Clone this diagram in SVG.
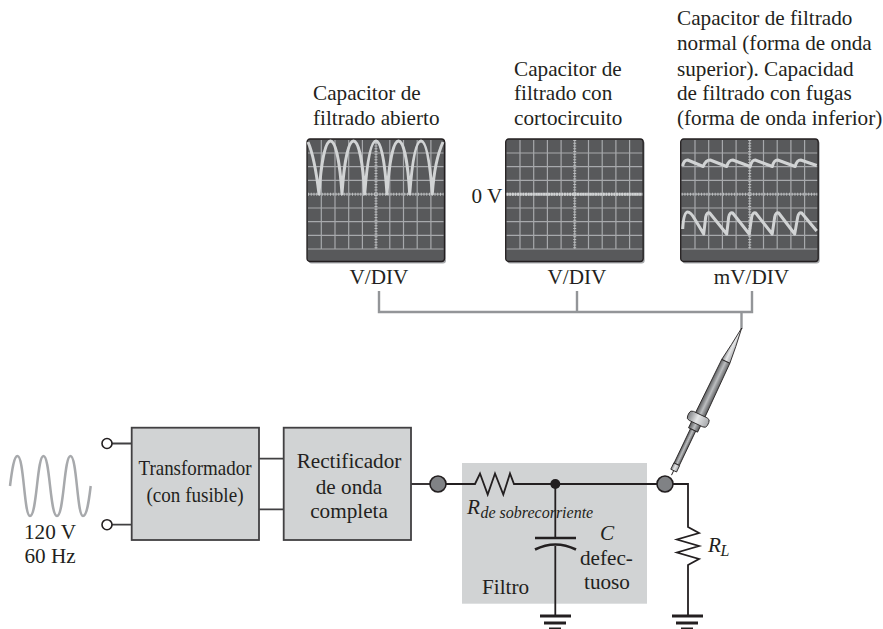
<svg xmlns="http://www.w3.org/2000/svg" xmlns:xlink="http://www.w3.org/1999/xlink" width="883" height="629" viewBox="0 0 883 629">
<style>
text{font-family:"Liberation Serif","Times New Roman",serif;font-size:21.2px;fill:#231f20}
.m{text-anchor:middle}
.i{font-style:italic}
.sub{font-style:italic;font-size:16px}
.box{fill:#d1d3d4;stroke:#414042;stroke-width:1.8}
.w{fill:none;stroke:#231f20;stroke-width:1.8}
.wg{fill:none;stroke:#414042;stroke-width:1.8}
.node{fill:#808285;stroke:#231f20;stroke-width:1.6}
.open{fill:#fff;stroke:#231f20;stroke-width:1.6}
.br{fill:none;stroke:#939598;stroke-width:2.4}
.wave{fill:none;stroke:#d1d3d4;stroke-width:3;stroke-linejoin:round}
.gnd{stroke:#231f20;fill:none}
.pl{stroke:#231f20;stroke-width:.8}
</style>
<defs>
<linearGradient id="pg" x1="0" x2="1" y1="0" y2="0">
<stop offset="0" stop-color="#58595b"/><stop offset="0.5" stop-color="#bcbec0"/><stop offset="1" stop-color="#58595b"/>
</linearGradient>
<linearGradient id="pc" x1="0" x2="1" y1="0" y2="0">
<stop offset="0" stop-color="#808285"/><stop offset="0.45" stop-color="#e6e7e8"/><stop offset="1" stop-color="#a7a9ac"/>
</linearGradient>
<g id="scope">
<rect x="1.5" y="1.5" width="137.5" height="123" rx="3" fill="#a7a9ac"/>
<rect x="0" y="0" width="137.5" height="122.5" rx="3" fill="#58595b" stroke="#231f20" stroke-width="1.3"/>
<path d="M14.3 1V110M28 1V110M41.7 1V110M55.4 1V110M82.8 1V110M96.5 1V110M110.2 1V110M123.9 1V110M1 14H136.5M1 27.7H136.5M1 41.4H136.5M1 69H136.5M1 82.7H136.5M1 96.4H136.5M1 110H136.5" fill="none" stroke="#a7a9ac" stroke-width="1.2"/>
<path d="M69 1V110M1 55.2H136.5" fill="none" stroke="#a7a9ac" stroke-width="1.2"/>
<path d="M69 1V110" fill="none" stroke="#bcbec0" stroke-width="3" stroke-dasharray="1 1.75"/>
<path d="M1 55.2H136.5" fill="none" stroke="#bcbec0" stroke-width="3" stroke-dasharray="1 1.75"/>
</g>
</defs>

<g id="filter">
<rect x="462" y="463" width="185" height="140.700" fill="#d1d3d4"/>
</g>

<g id="connectors">
<path class="br" d="M379 291V312H752V291M577 291V312M741.5 312V329"/>
<path class="wg" d="M112 443.500H132M112 524.700H132M259 458.700H284M259 509.300H284"/>
<path class="w" d="M411 484H430"/>
<path class="w" d="M446 484H475L480 473.500L487.700 494.500L495 473.500L503.300 494.500L510 473.500L514 484H657"/>
<path class="w" d="M673 484H688V527L699 533L677 539.500L699 546L677 552.500L699 559L688 565V616"/>
<path class="w" d="M555.300 484V538M555.300 546V616"/>
</g>

<g id="source">
<path d="M10 486C12 470 14 456 17.500 456C24 456 24 516 30 516C37 516 37 456 43.500 456C50 456 50 516 57 516C64 516 64 456 70.500 456C77 456 77 516 83 516C87 516 89 500 90.700 486" fill="none" stroke="#a7a9ac" stroke-width="2.500"/>
<text class="m" x="50" y="539">120 V</text>
<text class="m" x="50" y="563">60 Hz</text>
</g>
<g id="term-top"><circle class="open" cx="107" cy="443.500" r="5"/></g>
<g id="term-bottom"><circle class="open" cx="107" cy="524.700" r="5"/></g>

<g id="transformador">
<rect class="box" x="131.700" y="427.700" width="127.300" height="112.300"/>
<text x="138.500" y="475" textLength="113" lengthAdjust="spacingAndGlyphs">Transformador</text>
<text x="146.500" y="501.500" textLength="97" lengthAdjust="spacingAndGlyphs">(con fusible)</text>
</g>
<g id="rectificador">
<rect class="box" x="283.700" y="427.700" width="127.300" height="112.300"/>
<text class="m" x="349" y="467.500">Rectificador</text>
<text class="m" x="349" y="493.500">de onda</text>
<text class="m" x="349" y="518">completa</text>
</g>

<g id="node-in"><circle class="node" cx="438" cy="484" r="8"/></g>
<g id="node-out"><circle class="node" cx="665" cy="484" r="8"/></g>
<g id="junction"><circle cx="555.300" cy="484" r="5" fill="#231f20"/></g>

<g id="r-sobre">
<text x="467" y="514" class="i">R</text>
<text x="480.500" y="518.300" class="sub">de sobrecorriente</text>
</g>
<g id="capacitor">
<path d="M535 538H576" stroke="#231f20" stroke-width="2.600" fill="none"/>
<path d="M535 549.500Q555.300 539.500 576 549.500" stroke="#231f20" stroke-width="2.600" fill="none"/>
<text x="600" y="540" class="i">C</text>
<text x="580" y="565">defec-</text>
<text x="584" y="589">tuoso</text>
<text x="482" y="594">Filtro</text>
</g>
<g id="ground-1">
<path class="gnd" stroke-width="3" d="M540 616H571"/>
<path class="gnd" stroke-width="3" d="M544 623H566"/>
<path class="gnd" stroke-width="2" d="M549 628.500H561"/>
</g>
<g id="rl">
<text x="708" y="551.500" class="i">R</text>
<text x="720.500" y="556" class="sub">L</text>
</g>
<g id="ground-2">
<path class="gnd" stroke-width="3" d="M672 616H703"/>
<path class="gnd" stroke-width="3" d="M676 623H698"/>
<path class="gnd" stroke-width="2" d="M681 628.500H693"/>
</g>

<g id="scope-1">
<use xlink:href="#scope" href="#scope" x="307" y="139"/>
<path class="wave" transform="translate(307 139)" d="M1 3C5 12 9 30 12 55C14 25 18 2 23.500 2C29 2 33 25 35 55C37 25 41 2 46.500 2C52 2 56 25 57.700 55C60 25 63.500 2 69 2C74.500 2 78 25 80 55C82 25 86 2 91.500 2C97 2 101 25 102.700 55C105 25 108.500 2 114 2C119.500 2 123 25 125.300 55C127 30 131 14 136 3"/>
<text x="313" y="100">Capacitor de</text>
<text x="313" y="125">filtrado abierto</text>
<text class="m" x="379" y="284">V/DIV</text>
</g>

<g id="scope-2">
<use xlink:href="#scope" href="#scope" x="505.700" y="139"/>
<path transform="translate(505.700 139)" d="M1 55.200H136.500" fill="none" stroke="#d1d3d4" stroke-width="3" stroke-dasharray="2 .6"/>
<text x="514" y="76">Capacitor de</text>
<text x="514" y="100">filtrado con</text>
<text x="514" y="125">cortocircuito</text>
<text x="471.500" y="203">0 V</text>
<text class="m" x="577" y="284">V/DIV</text>
</g>

<g id="scope-3">
<use xlink:href="#scope" href="#scope" x="680.700" y="139"/>
<g transform="translate(680.700 139)">
<path class="wave" d="M2 27Q3 21 7 21L22.500 27.500Q25 21 29.500 21L46 27.500Q48 21 52 21L69.500 27.500Q71 21 74.500 21L91.700 27.500Q93 21 97 21L114.500 27.500Q116 21 120 21L136 26.500"/>
<path class="wave" d="M2 90Q3 73 7 73Q10 73 14 80L23 95L25 78Q26 73 29 74L46 95L48 78Q49 73 52 74L68.500 95L71 78Q72 73 75 74L91.500 95L94 78Q95 73 98 74L114 95L117 78Q118 73 121 74L136 92"/>
</g>
<text x="677" y="25">Capacitor de filtrado</text>
<text x="677" y="50">normal (forma de onda</text>
<text x="677" y="76">superior). Capacidad</text>
<text x="677" y="100">de filtrado con fugas</text>
<text x="677" y="125">(forma de onda inferior)</text>
<text class="m" x="751.500" y="284">mV/DIV</text>
</g>

<g id="probe" transform="translate(741.700 328) rotate(25.500)">
<path class="pl" d="M0 0Q3 20 4.500 37H-4.500Q-2 20 0 0Z" fill="url(#pc)"/>
<path class="pl" d="M-4.500 37H4.500L5.200 97H-5.200Z" fill="url(#pg)"/>
<rect class="pl" x="-5" y="105" width="10" height="8" fill="url(#pg)"/>
<rect class="pl" x="-11" y="96" width="22" height="10" rx="3.500" fill="url(#pc)"/>
<rect class="pl" x="-2.900" y="113" width="5.800" height="38" fill="url(#pg)"/>
<rect class="pl" x="-3.200" y="151" width="6.400" height="7" fill="url(#pc)"/>
<path d="M0 158V163" stroke="#231f20" stroke-width="1"/>
</g>
</svg>
